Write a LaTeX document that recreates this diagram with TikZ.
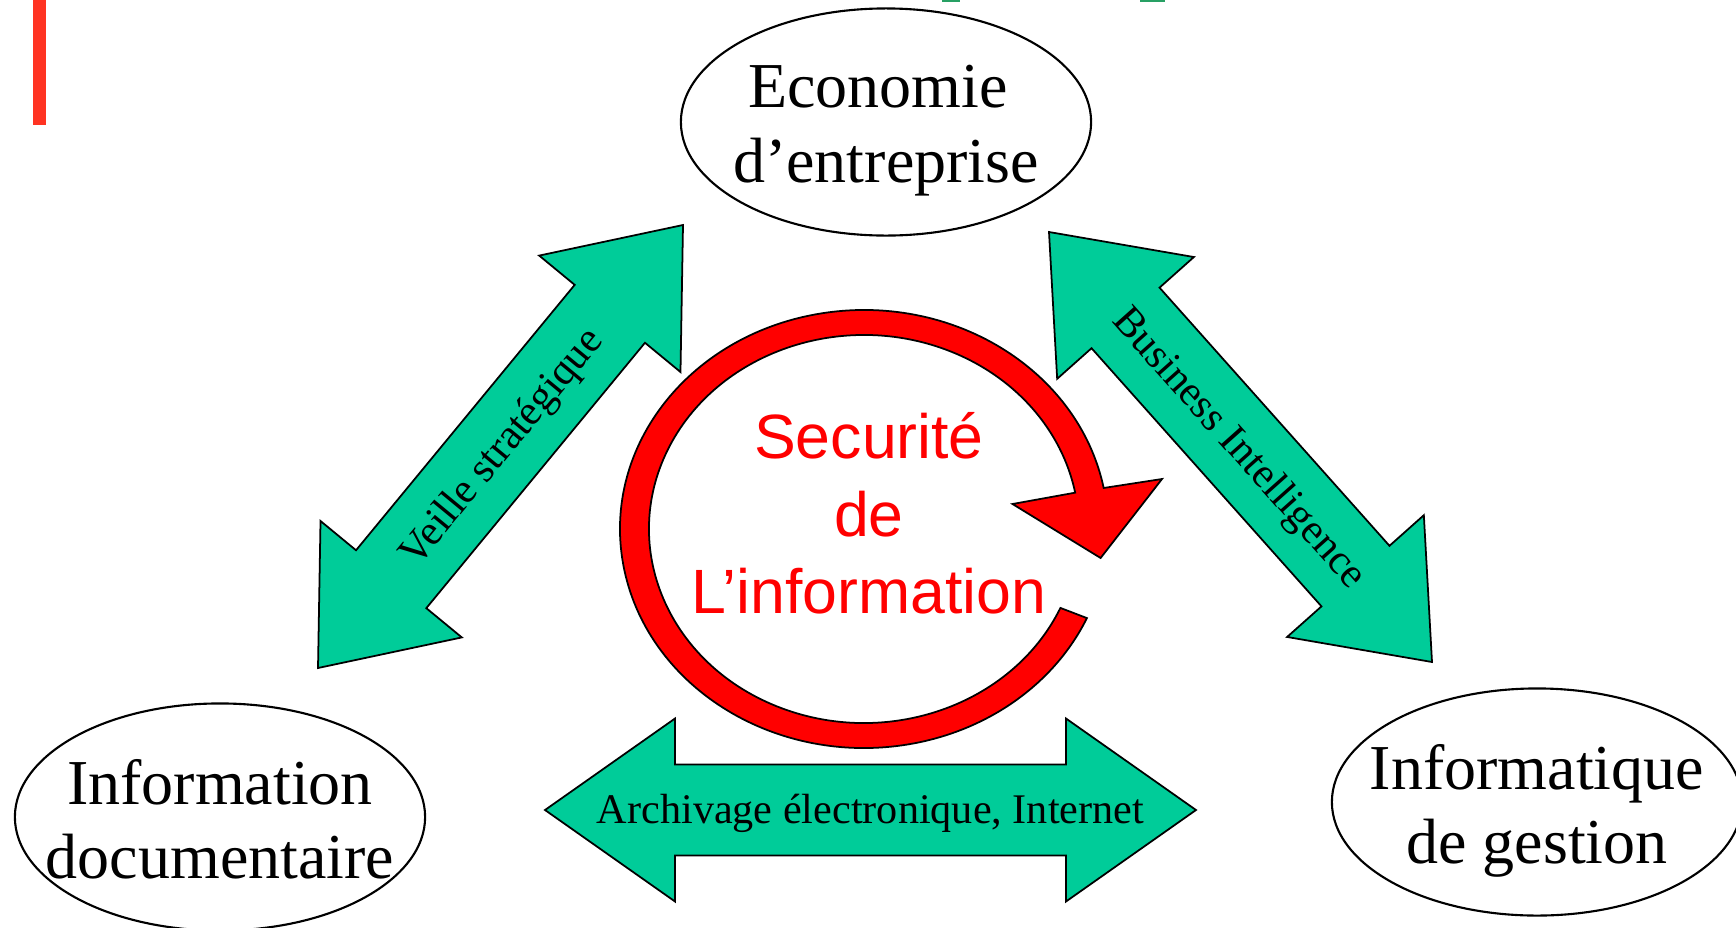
\documentclass[tikz,border=0pt]{standalone}
\usepackage{fontspec}
\setmainfont{Liberation Serif}
\newfontfamily\arialfont{Liberation Sans}
\usetikzlibrary{shapes.geometric,calc}
\definecolor{arrow_green}{RGB}{0,204,153}
\definecolor{ring_red}{RGB}{255,0,0}
\definecolor{bar_red}{RGB}{255,51,34}
\definecolor{title_green}{RGB}{40,160,100}

\newcommand{\headhalf}{9.15mm}
\newcommand{\shafthalf}{4.55mm}
\newcommand{\twowayarrow}[4]{%
  \filldraw[twoway] (#1)
    -- ($(#1)!#3!(#2)!\headhalf!90:(#2)$)
    -- ($(#1)!#3!(#2)!\shafthalf!90:(#2)$)
    -- ($(#2)!#3!(#1)!\shafthalf!-90:(#1)$)
    -- ($(#2)!#3!(#1)!\headhalf!-90:(#1)$)
    -- (#2)
    -- ($(#2)!#3!(#1)!\headhalf!90:(#1)$)
    -- ($(#2)!#3!(#1)!\shafthalf!90:(#1)$)
    -- ($(#1)!#3!(#2)!\shafthalf!-90:(#2)$)
    -- ($(#1)!#3!(#2)!\headhalf!-90:(#2)$)
    -- cycle;
  \path (#1) -- (#2) node[midway, sloped, twowaytext] {#4};}

\begin{document}
\begin{tikzpicture}[x=0.01cm, y=0.01cm, line join=miter]
    \tikzstyle{bubble}=[draw=black, line width=0.6pt, ellipse, minimum width=4.1cm, minimum height=2.27cm, inner sep=0pt]
    \tikzstyle{bubbletext}=[align=center, font=\fontsize{18.2}{21.2}\selectfont, inner sep=0pt, text depth=0pt, yshift=-0.2mm]
    \tikzstyle{twoway}=[fill=arrow_green, draw=black, line width=0.5pt]
    \tikzstyle{twowaytext}=[font=\fontsize{12}{14}\selectfont, inner sep=0pt, text height=0.75em, text depth=0pt]
    \tikzstyle{ringarrow}=[fill=ring_red, draw=black, line width=0.5pt]
    \tikzstyle{ringtext}=[align=center, text=ring_red, font=\arialfont\fontsize{17.8}{22}\selectfont, inner sep=0pt, text depth=0pt]

    \useasboundingbox (0,0) rectangle (1736,-927);

    \fill[bar_red] (33,0) rectangle (46,-125);
    \fill[title_green] (942,0) rectangle (960,-2);
    \fill[title_green] (1140,0) rectangle (1165,-2);

    \node[bubble, label={[bubbletext]center:{Economie\kern0.25em\\d’entreprise}}] (eco) at (886,-122) {};
    \node[bubble, label={[bubbletext]center:{Information\\documentaire}}] (doc) at (220,-817) {};
    \node[bubble, label={[bubbletext]center:{Informatique\\de gestion}}] (gest) at (1537,-802) {};

    \coordinate (ring) at (864,-529);
    \coordinate (barb_l) at (1012.5,-504);
    \coordinate (barb_tip) at (1100.6,-558);
    \coordinate (barb_r) at (1162,-479);
    \filldraw[ringarrow] ($(ring)+(10.8:244 and 219)$)
      arc[start angle=10.8, end angle=336, x radius=244, y radius=219]
      -- ($(ring)+(336:215 and 194)$)
      arc[start angle=336, end angle=10.8, x radius=215, y radius=194]
      -- (barb_l) -- (barb_tip) -- (barb_r) -- cycle;
    \node[ringtext] (secu) at (869,-513) {Securité\\de\\L’information};

    \coordinate (vs_a) at (318,-668);
    \coordinate (vs_b) at (683,-225);
    \coordinate (bi_a) at (1049,-232);
    \coordinate (bi_b) at (1432,-662);
    \coordinate (ar_a) at (545,-810);
    \coordinate (ar_b) at (1196,-810);

    \twowayarrow{vs_a}{vs_b}{11.5mm}{Veille stratégique}
    \twowayarrow{bi_a}{bi_b}{11.5mm}{Business Intelligence}
    \twowayarrow{ar_a}{ar_b}{13mm}{Archivage électronique, Internet}
\end{tikzpicture}
\end{document}
